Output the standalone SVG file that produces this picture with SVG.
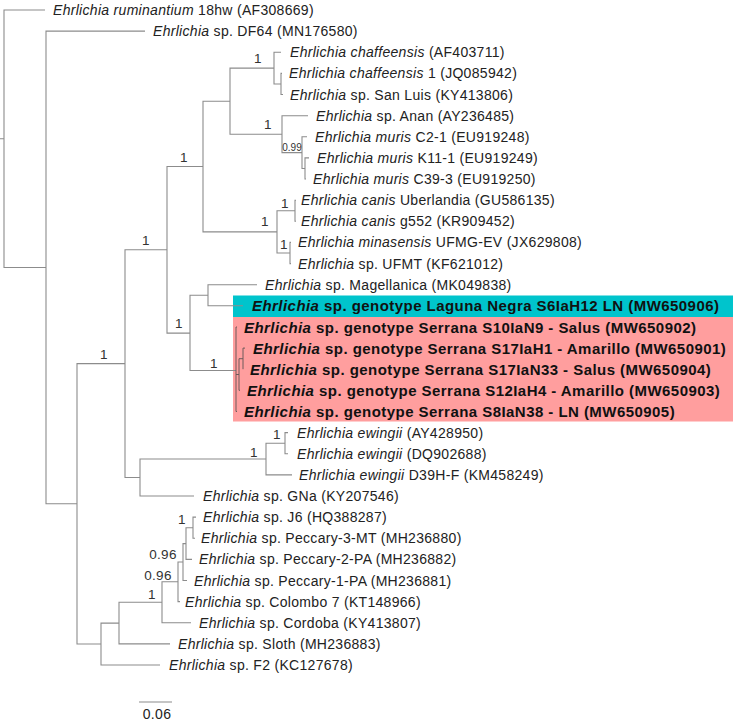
<svg xmlns="http://www.w3.org/2000/svg" width="733" height="721" viewBox="0 0 733 721">
<style>
.e{fill:none;stroke:#8c8c8c;stroke-width:1.1}
.ed{fill:none;stroke:#6e5a5a;stroke-width:1}
.t{font-family:"Liberation Sans",Arial,sans-serif;font-size:14px;fill:#222;letter-spacing:0.3px}
.b{font-family:"Liberation Sans",Arial,sans-serif;font-size:15px;font-weight:bold;fill:#111;letter-spacing:0.45px}
.i{font-style:italic}
.s{font-family:"Liberation Sans",Arial,sans-serif;font-size:13.5px;fill:#333;text-anchor:middle;letter-spacing:0.3px}
.s2{font-family:"Liberation Sans",Arial,sans-serif;font-size:10px;fill:#333;text-anchor:middle}
</style>
<rect width="733" height="721" fill="#fff"/>
<g id="highlights">
<rect x="233" y="295.5" width="500" height="21.5" fill="#00C4CC"/>
<rect x="233" y="317" width="500" height="104.5" fill="#FF9E9E"/>
</g>
<g id="connectors">
<path class="e" d="M0,138.7H4M45,10H4V267.5H46"/>
<path class="e" d="M145,31.1H46V503.8H77"/>
<path class="e" d="M125,363.6H77V644.05H101"/>
<path class="e" d="M167,249.8H125V477.5H140"/>
<path class="e" d="M203,166.5H167V333.1H190"/>
<path class="e" d="M230,101.2H203V231.9H277"/>
<path class="e" d="M274,68.1H230V134.2H282"/>
<path class="e" d="M281,52.3H274V84H281"/>
<path class="e" d="M282,73.4H281V94.5H283"/>
<path class="e" d="M308,115.7H282V152.6H302"/>
<path class="e" d="M307,136.8H302V168.5H305"/>
<path class="e" d="M309,157.9H305V179H306"/>
<path class="e" d="M295,210.7H277V253H290"/>
<path class="e" d="M296,200.2H295V221.3H296"/>
<path class="e" d="M291,242.4H290V263.6H291"/>
<path class="e" d="M208,295.3H190V370.5H236"/>
<path class="e" d="M257,284.7H208V305.8H243"/>
<path class="ed" d="M237,327H236V411.5H237M236,374.5H239M240,390.3H239V358.7H243M245,348.1H243V369.2"/>
<path class="e" d="M266,459H140V496H194"/>
<path class="e" d="M285,443.2H266V474.9H292"/>
<path class="e" d="M288,432.6H285V453.7H288"/>
<path class="e" d="M119,623.1H101V665H160"/>
<path class="e" d="M162,602.3H119V643.9H170"/>
<path class="e" d="M178,581.8H162V622.8H191"/>
<path class="e" d="M183,562H178V601.6H180"/>
<path class="e" d="M186,543.6H183V580.5H187"/>
<path class="e" d="M193,527.7H186V559.4H192"/>
<path class="e" d="M196,517.1H193V538.3H195"/>
</g>
<g id="support">
<text class="s" x="258" y="62.7">1</text>
<text class="s" x="268" y="128.7">1</text>
<text class="s2" x="292" y="150.6">0.99</text>
<text class="s" x="184" y="161.7">1</text>
<text class="s" x="265" y="225.7">1</text>
<text class="s" x="285" y="207.7">1</text>
<text class="s" x="284" y="248.7">1</text>
<text class="s" x="146" y="244.7">1</text>
<text class="s" x="179" y="327.7">1</text>
<text class="s" x="214" y="367.7">1</text>
<text class="s" x="104" y="358.7">1</text>
<text class="s" x="254" y="456.7">1</text>
<text class="s" x="277" y="438.7">1</text>
<text class="s" x="182" y="523.7">1</text>
<text class="s" x="163" y="558.7">0.96</text>
<text class="s" x="158" y="579.7">0.96</text>
<text class="s" x="152" y="598.7">1</text>
</g>
<g id="leaf-AF308669"><text class="t" x="53" y="15"><tspan class="i">Ehrlichia ruminantium</tspan> 18hw (AF308669)</text></g>
<g id="leaf-MN176580"><text class="t" x="153" y="36.1"><tspan class="i">Ehrlichia</tspan> sp. DF64 (MN176580)</text></g>
<g id="leaf-AF403711"><text class="t" x="290" y="57.3"><tspan class="i">Ehrlichia chaffeensis</tspan> (AF403711)</text></g>
<g id="leaf-JQ085942"><text class="t" x="289" y="78.4"><tspan class="i">Ehrlichia chaffeensis</tspan> 1 (JQ085942)</text></g>
<g id="leaf-KY413806"><text class="t" x="290" y="99.5"><tspan class="i">Ehrlichia</tspan> sp. San Luis (KY413806)</text></g>
<g id="leaf-AY236485"><text class="t" x="316" y="120.7"><tspan class="i">Ehrlichia</tspan> sp. Anan (AY236485)</text></g>
<g id="leaf-EU919248"><text class="t" x="315" y="141.8"><tspan class="i">Ehrlichia muris</tspan> C2-1 (EU919248)</text></g>
<g id="leaf-EU919249"><text class="t" x="317" y="162.9"><tspan class="i">Ehrlichia muris</tspan> K11-1 (EU919249)</text></g>
<g id="leaf-EU919250"><text class="t" x="313" y="184"><tspan class="i">Ehrlichia muris</tspan> C39-3 (EU919250)</text></g>
<g id="leaf-GU586135"><text class="t" x="301" y="205.2"><tspan class="i">Ehrlichia canis</tspan> Uberlandia (GU586135)</text></g>
<g id="leaf-KR909452"><text class="t" x="301" y="226.3"><tspan class="i">Ehrlichia canis</tspan> g552 (KR909452)</text></g>
<g id="leaf-JX629808"><text class="t" x="298" y="247.4"><tspan class="i">Ehrlichia minasensis</tspan> UFMG-EV (JX629808)</text></g>
<g id="leaf-KF621012"><text class="t" x="298" y="268.6"><tspan class="i">Ehrlichia</tspan> sp. UFMT (KF621012)</text></g>
<g id="leaf-MK049838"><text class="t" x="265" y="289.7"><tspan class="i">Ehrlichia</tspan> sp. Magellanica (MK049838)</text></g>
<g id="leaf-MW650906"><text class="b" x="252" y="311.3"><tspan class="i">Ehrlichia</tspan> sp. genotype Laguna Negra S6IaH12 LN (MW650906)</text></g>
<g id="leaf-MW650902"><text class="b" x="244" y="332.5"><tspan class="i">Ehrlichia</tspan> sp. genotype Serrana S10IaN9 - Salus (MW650902)</text></g>
<g id="leaf-MW650901"><text class="b" x="253" y="353.6"><tspan class="i">Ehrlichia</tspan> sp. genotype Serrana S17IaH1 - Amarillo (MW650901)</text></g>
<g id="leaf-MW650904"><text class="b" x="250" y="374.7"><tspan class="i">Ehrlichia</tspan> sp. genotype Serrana S17IaN33 - Salus (MW650904)</text></g>
<g id="leaf-MW650903"><text class="b" x="247" y="395.8"><tspan class="i">Ehrlichia</tspan> sp. genotype Serrana S12IaH4 - Amarillo (MW650903)</text></g>
<g id="leaf-MW650905"><text class="b" x="244" y="417"><tspan class="i">Ehrlichia</tspan> sp. genotype Serrana S8IaN38 - LN (MW650905)</text></g>
<g id="leaf-AY428950"><text class="t" x="297" y="437.6"><tspan class="i">Ehrlichia ewingii</tspan> (AY428950)</text></g>
<g id="leaf-DQ902688"><text class="t" x="297" y="458.7"><tspan class="i">Ehrlichia ewingii</tspan> (DQ902688)</text></g>
<g id="leaf-KM458249"><text class="t" x="299" y="479.9"><tspan class="i">Ehrlichia ewingii</tspan> D39H-F (KM458249)</text></g>
<g id="leaf-KY207546"><text class="t" x="203" y="501"><tspan class="i">Ehrlichia</tspan> sp. GNa (KY207546)</text></g>
<g id="leaf-HQ388287"><text class="t" x="203" y="522.1"><tspan class="i">Ehrlichia</tspan> sp. J6 (HQ388287)</text></g>
<g id="leaf-MH236880"><text class="t" x="201" y="543.3"><tspan class="i">Ehrlichia</tspan> sp. Peccary-3-MT (MH236880)</text></g>
<g id="leaf-MH236882"><text class="t" x="199" y="564.4"><tspan class="i">Ehrlichia</tspan> sp. Peccary-2-PA (MH236882)</text></g>
<g id="leaf-MH236881"><text class="t" x="194" y="585.5"><tspan class="i">Ehrlichia</tspan> sp. Peccary-1-PA (MH236881)</text></g>
<g id="leaf-KT148966"><text class="t" x="185" y="606.6"><tspan class="i">Ehrlichia</tspan> sp. Colombo 7 (KT148966)</text></g>
<g id="leaf-KY413807"><text class="t" x="199" y="627.8"><tspan class="i">Ehrlichia</tspan> sp. Cordoba (KY413807)</text></g>
<g id="leaf-MH236883"><text class="t" x="178" y="648.9"><tspan class="i">Ehrlichia</tspan> sp. Sloth (MH236883)</text></g>
<g id="leaf-KC127678"><text class="t" x="169" y="670"><tspan class="i">Ehrlichia</tspan> sp. F2 (KC127678)</text></g>
<g id="scale-bar">
<path class="e" d="M139,702H172"/>
<text class="t" x="157" y="719" text-anchor="middle">0.06</text>
</g>
</svg>
